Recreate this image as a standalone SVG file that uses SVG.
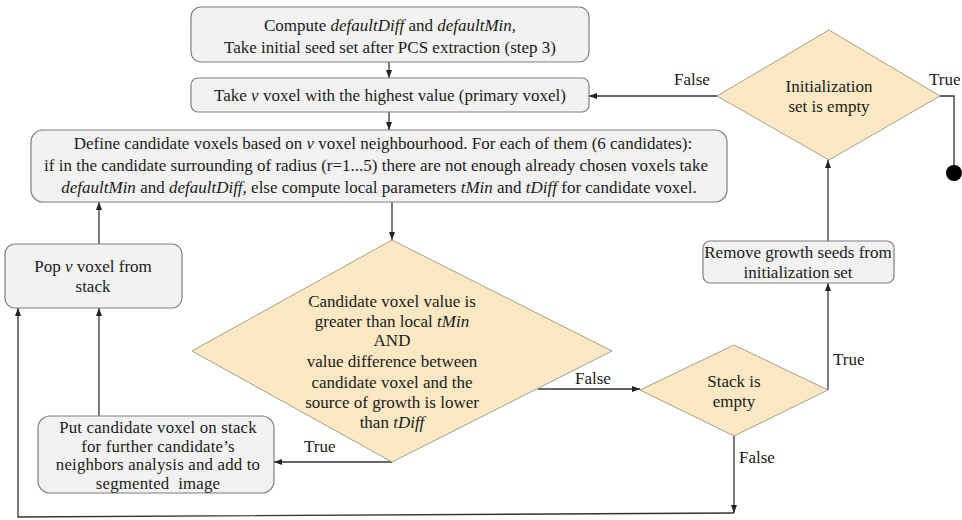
<svg xmlns="http://www.w3.org/2000/svg" width="962" height="520" viewBox="0 0 962 520">
<defs>
<marker id="ah" viewBox="0 0 8 8" refX="8" refY="4" markerWidth="8" markerHeight="8" markerUnits="userSpaceOnUse" orient="auto">
<path d="M0,1 L8,4 L0,7 Z" fill="#222"/>
</marker>
<style>
text{font-family:"Liberation Serif","Times New Roman",serif;font-size:17px;fill:#1a1a1a;text-anchor:middle}
.lbl{text-anchor:start}
.i{font-style:italic}
.big{font-size:16.8px;letter-spacing:0.2px}
.box{fill:#f2f2f2;stroke:#7f7f7f;stroke-width:1.2}
.dia{fill:#fce8c2;stroke:#a89f8a;stroke-width:1}
.ln{fill:none;stroke:#333;stroke-width:1.3}
.arr{marker-end:url(#ah)}
</style>
</defs>
<rect width="962" height="520" fill="#fff"/>

<g id="connectors">
<path class="ln arr" d="M389,62 V78"/>
<path class="ln arr" d="M389,112 V130"/>
<path class="ln arr" d="M392,202 V240"/>
<path class="ln arr" d="M717,96 H589"/>
<path class="ln" d="M939,96 H954 V166"/>
<path class="ln arr" d="M99,244 V202"/>
<path class="ln arr" d="M99,416 V308"/>
<path class="ln arr" d="M392,462 H274"/>
<path class="ln arr" d="M538,389 H640"/>
<path class="ln arr" d="M828,390 V283"/>
<path class="ln arr" d="M828,241 V160"/>
<path class="ln arr" d="M734,436 V513"/>
<path class="ln arr" d="M734,513 L18,517 V308"/>
<text class="lbl" x="674" y="85">False</text>
<text class="lbl" x="929" y="85">True</text>
<text class="lbl" x="575" y="384">False</text>
<text class="lbl" x="304" y="452">True</text>
<text class="lbl" x="833" y="365">True</text>
<text class="lbl" x="739" y="463">False</text>
</g>

<g id="n1">
<rect class="box" x="191" y="7" width="398" height="55" rx="10"/>
<text x="390" y="31">Compute <tspan class="i">defaultDiff</tspan> and <tspan class="i">defaultMin,</tspan></text>
<text x="390" y="53">Take initial seed set after PCS extraction (step 3)</text>
</g>

<g id="n2">
<rect class="box" x="191" y="78" width="398" height="34" rx="7"/>
<text x="390" y="101">Take <tspan class="i">v</tspan> voxel with the highest value (primary voxel)</text>
</g>

<g id="n3">
<rect class="box" x="31" y="130" width="696" height="72" rx="12"/>
<text x="383" y="149">Define candidate voxels based on <tspan class="i">v</tspan> voxel neighbourhood. For each of them (6 candidates):</text>
<text x="376" y="171">if in the candidate surrounding of radius (r=1...5) there are not enough already chosen voxels take</text>
<text x="379" y="193"><tspan class="i">defaultMin</tspan> and <tspan class="i">defaultDiff,</tspan> else compute local parameters <tspan class="i">tMin</tspan> and <tspan class="i">tDiff</tspan> for candidate voxel.</text>
</g>

<g id="n4">
<rect class="box" x="5" y="244" width="177" height="64" rx="10"/>
<text x="93" y="272">Pop <tspan class="i">v</tspan> voxel from</text>
<text x="93" y="292">stack</text>
</g>

<g id="n5">
<rect class="box" x="38" y="416" width="236" height="77" rx="12"/>
<text class="big" x="158" y="433">Put candidate voxel on stack</text>
<text class="big" x="158" y="451.5">for further candidate’s</text>
<text class="big" x="158" y="470">neighbors analysis and add to</text>
<text class="big" x="158" y="488.5" xml:space="preserve">segmented  image</text>
</g>

<g id="n6">
<polygon class="dia" points="392,240 612,351 392,462 192,351"/>
<text x="392" y="307">Candidate voxel value is</text>
<text x="392" y="327">greater than local <tspan class="i">tMin</tspan></text>
<text x="392" y="346">AND</text>
<text x="392" y="367">value difference between</text>
<text x="392" y="388">candidate voxel and the</text>
<text x="392" y="408">source of growth is lower</text>
<text x="392" y="428">than <tspan class="i">tDiff</tspan></text>
</g>

<g id="n7">
<polygon class="dia" points="734,345 828,390 734,436 640,390"/>
<text x="734" y="387">Stack is</text>
<text x="734" y="407">empty</text>
</g>

<g id="n8">
<rect class="box" x="703" y="241" width="191" height="42" rx="7"/>
<text x="798" y="258">Remove growth seeds from</text>
<text x="798" y="278">initialization set</text>
</g>

<g id="n9">
<polygon class="dia" points="829,30 940,96 829,160 717,96"/>
<text x="829" y="92">Initialization</text>
<text x="829" y="112">set is empty</text>
</g>

<g id="n10">
<circle cx="954" cy="173" r="8" fill="#000"/>
</g>
</svg>
